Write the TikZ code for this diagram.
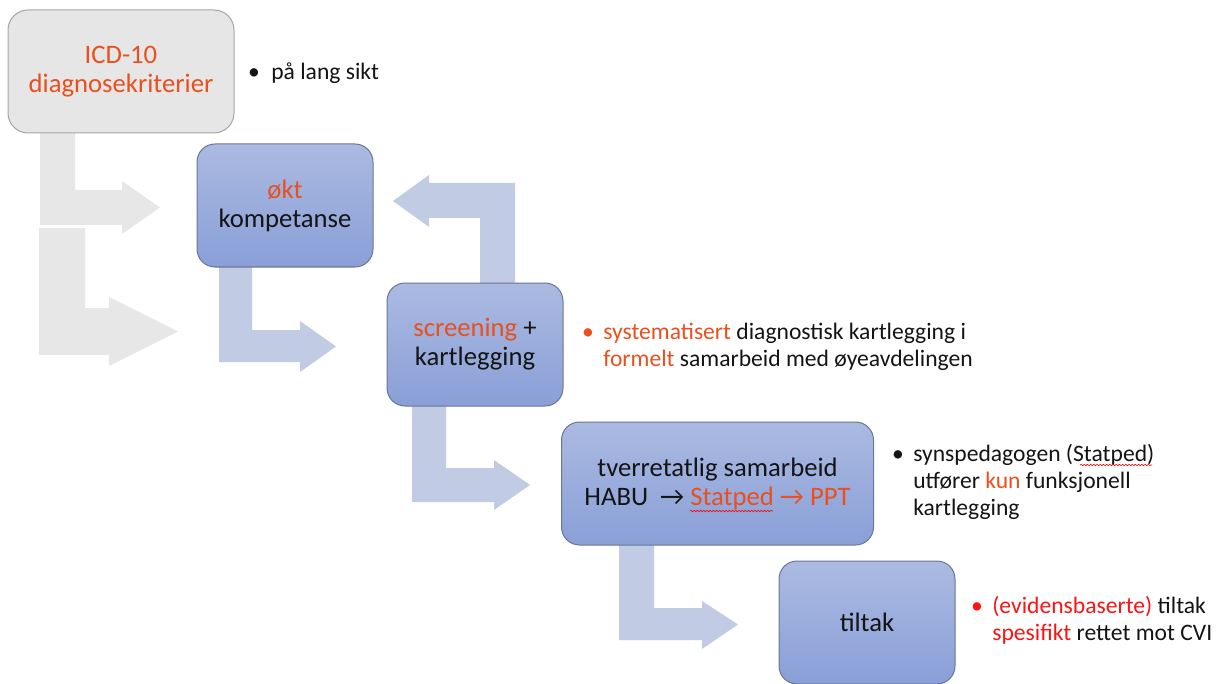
\documentclass[tikz,border=0pt]{standalone}
\usepackage{fontspec}
\setmainfont{Carlito}
\usetikzlibrary{decorations.pathmorphing}

\definecolor{ink}{RGB}{20,20,20}
\definecolor{accent}{RGB}{233,80,30}
\definecolor{hot}{RGB}{250,20,20}
\definecolor{grayfill}{RGB}{230,230,230}
\definecolor{grayedge}{RGB}{165,165,165}
\definecolor{grayarr}{RGB}{231,231,231}
\definecolor{bluearr}{RGB}{193,203,228}
\definecolor{bluetop}{RGB}{171,186,225}
\definecolor{bluebot}{RGB}{137,159,215}
\definecolor{blueedge}{RGB}{105,118,150}

\begin{document}
\begin{tikzpicture}[x=0.75pt,y=-0.75pt,
  boxtxt/.style={font=\fontsize{20}{21.75}\selectfont, align=center, text=ink},
  graybox/.style={boxtxt, draw=grayedge, fill=grayfill, rounded corners=15pt,
    line width=0.75pt, minimum width=169.5pt, minimum height=92.25pt, inner sep=0pt},
  bluebox/.style={boxtxt, draw=blueedge, top color=bluetop, bottom color=bluebot,
    rounded corners=13.5pt, line width=0.75pt, minimum height=92.25pt, inner sep=0pt},
  note/.style={font=\fontsize{17.7}{20.25}\selectfont, text=ink, inner sep=0pt, anchor=base west},
  dot/.style={font=\fontsize{17.7}{20.25}\selectfont, text=ink, inner sep=0pt, anchor=base},
  grayarrow/.style={fill=grayarr},
  bluearrow/.style={fill=bluearr},
  squig/.style={draw=red, line width=0.45pt, decorate,
    decoration={snake, amplitude=0.55pt, segment length=2.4pt}}
]
\useasboundingbox (0,0) rectangle (1227,684);

% bent block arrows (behind the boxes)
\path[grayarrow] (40,125) -- (75,125) -- (75,190) -- (122,190) -- (122,181)
  -- (160,207.5) -- (122,234) -- (122,225) -- (40,225) -- cycle;
\path[grayarrow] (39,228) -- (85,228) -- (85,308) -- (109,308) -- (109,297)
  -- (178,331.5) -- (109,366) -- (109,355) -- (39,355) -- cycle;
\path[bluearrow] (219,260) -- (252,260) -- (252,330) -- (300,330) -- (300,321)
  -- (336,346.5) -- (300,372) -- (300,362) -- (219,362) -- cycle;
\path[bluearrow] (480,290) -- (480,218) -- (429,218) -- (429,227)
  -- (393,201) -- (429,175) -- (429,183) -- (515,183) -- (515,290) -- cycle;
\path[bluearrow] (412,400) -- (446,400) -- (446,468) -- (494,468) -- (494,460)
  -- (530,485) -- (494,510) -- (494,502) -- (412,502) -- cycle;
\path[bluearrow] (619,540) -- (654,540) -- (654,608) -- (702,608) -- (702,601)
  -- (738,624.5) -- (702,649) -- (702,640) -- (619,640) -- cycle;

% boxes
\node[graybox] (k1) at (121,71.5)
  {\textcolor{accent}{ICD-10}\\\textcolor{accent}{diagnosekriterier}};
\node[bluebox, minimum width=132pt] (k2) at (285,205.5)
  {\textcolor{accent}{økt}\\kompetanse};
\node[bluebox, minimum width=132pt] (k3) at (475,344.5)
  {\textcolor{accent}{screening} +\\kartlegging};
\node[bluebox, minimum width=234pt] (k4) at (717.5,483.5)
  {tverretatlig samarbeid\\HABU\ \ → \textcolor{accent}{Statped → PPT}};
\node[bluebox, minimum width=132pt] (k5) at (867,622.5) {tiltak};

% bullet notes
\node[dot] (d1) at (254,80) {•};
\node[note] (n1) at (271,80) {på lang sikt};

\node[dot, text=accent] (d2) at (588,339) {•};
\node[note] (n2) at (603,339) {\begin{tabular}[t]{@{}l@{}}
  \textcolor{accent}{systematisert} diagnostisk kartlegging i\\
  \textcolor{accent}{formelt} samarbeid med øyeavdelingen\end{tabular}};

\node[dot] (d3) at (898,461.5) {•};
\node[note] (n3) at (913,461.5) {\begin{tabular}[t]{@{}l@{}}
  synspedagogen (Statped)\\
  utfører \textcolor{accent}{kun} funksjonell\\
  kartlegging\end{tabular}};

\node[dot, text=hot] (d4) at (977,613) {•};
\node[note] (n4) at (992,613) {\begin{tabular}[t]{@{}l@{}}
  \textcolor{hot}{(evidensbaserte)} tiltak\\
  \textcolor{hot}{spesifikt} rettet mot CVI\end{tabular}};

% spell-check marks under "Statped"
\path[squig] (690,511) -- (773,511);
\path[squig] (1080,465) -- (1152,465);
\end{tikzpicture}
\end{document}
